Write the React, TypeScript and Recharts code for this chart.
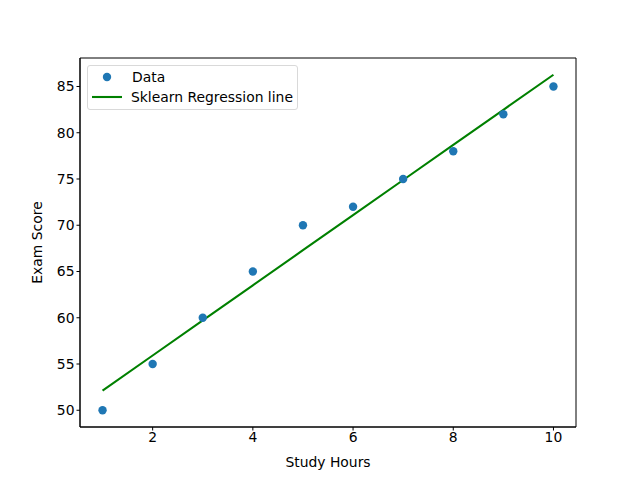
import {
  ComposedChart,
  Scatter,
  Line,
  XAxis,
  YAxis,
  Legend,
  ReferenceArea,
} from "recharts";

const hours = [1, 2, 3, 4, 5, 6, 7, 8, 9, 10];
const scores = [50, 55, 60, 65, 70, 72, 75, 78, 82, 85];
// fitted line read at each hour
const fitted = [52.13, 55.92, 59.71, 63.51, 67.3, 71.1, 74.89, 78.68, 82.48, 86.27];

const xTicks = [2, 4, 6, 8, 10];
const yTicks = [50, 55, 60, 65, 70, 75, 80, 85];

const X_DOMAIN: [number, number] = [0.55, 10.45];
const Y_DOMAIN: [number, number] = [48.19, 88.08];

const rows = hours.map((h, i) => ({ x: h, score: scores[i], fit: fitted[i] }));

const FONT = "'DejaVu Sans', sans-serif";
const tickStyle = { fontSize: 13.9, fill: "#000", fontFamily: FONT };

const Dot = (props: { cx?: number; cy?: number }) => (
  <circle cx={props.cx} cy={props.cy} r={4.2} fill="#1f77b4" />
);

const LegendBox = () => (
  <div
    style={{
      position: "absolute",
      left: 87,
      top: 65,
      width: 211,
      height: 45,
      border: "1px solid #d9d9d9",
      borderRadius: 3,
      background: "rgba(255,255,255,0.8)",
      fontFamily: FONT,
      fontSize: 13.9,
      color: "#000",
      boxSizing: "border-box",
    }}
  >
    <svg width={40} height={44} style={{ position: "absolute", left: 0, top: 0 }}>
      <circle cx={19} cy={11} r={4.2} fill="#1f77b4" />
      <line x1={4} y1={31} x2={34} y2={31} stroke="#008000" strokeWidth={2.1} />
    </svg>
    <div style={{ position: "absolute", left: 44, top: 2, lineHeight: "18px" }}>Data</div>
    <div style={{ position: "absolute", left: 43, top: 22, lineHeight: "18px", whiteSpace: "nowrap" }}>
      Sklearn Regression line
    </div>
  </div>
);

export default function App() {
  return (
    <div style={{ position: "absolute", left: 0, top: 0, width: 640, height: 480, background: "#fff" }}>
      <ComposedChart
        width={640}
        height={480}
        data={rows}
        margin={{ top: 58, right: 64, bottom: 23, left: 30 }}
      >
        <XAxis
          dataKey="x"
          type="number"
          domain={X_DOMAIN}
          ticks={xTicks}
          tick={tickStyle}
          tickSize={3.5}
          tickLine={{ stroke: "#000" }}
          axisLine={{ stroke: "#000" }}
          height={30}
          label={{ value: "Study Hours", position: "insideBottom", offset: -10, style: { ...tickStyle, textAnchor: "middle" } }}
        />
        <YAxis
          type="number"
          domain={Y_DOMAIN}
          ticks={yTicks}
          tick={tickStyle}
          tickSize={3.5}
          tickLine={{ stroke: "#000" }}
          axisLine={{ stroke: "#000" }}
          width={50}
          label={{ value: "Exam Score", angle: -90, position: "insideLeft", offset: 0, dx: 7, style: { ...tickStyle, textAnchor: "middle" } }}
        />
        <ReferenceArea
          x1={X_DOMAIN[0]}
          x2={X_DOMAIN[1]}
          y1={Y_DOMAIN[0]}
          y2={Y_DOMAIN[1]}
          stroke="#000"
          strokeWidth={1}
          fill="none"
          fillOpacity={0}
        />
        <Scatter dataKey="score" fill="#1f77b4" shape={<Dot />} isAnimationActive={false} />
        <Line
          dataKey="fit"
          stroke="#008000"
          strokeWidth={2.1}
          dot={false}
          activeDot={false}
          isAnimationActive={false}
        />
        <Legend content={<LegendBox />} wrapperStyle={{ position: "absolute", left: 0, top: 0 }} />
      </ComposedChart>
    </div>
  );
}
